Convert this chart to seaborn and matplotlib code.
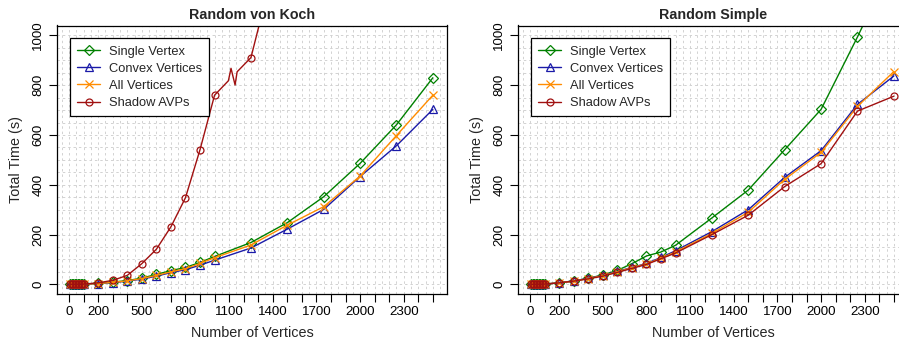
import numpy as np
import pandas as pd
import matplotlib
matplotlib.use("Agg")
import matplotlib.pyplot as plt
from matplotlib.lines import Line2D
from matplotlib.ticker import MultipleLocator, FixedLocator, FixedFormatter
import seaborn as sns

# ---------------- data ----------------
vertices = [10, 20, 30, 40, 50, 60, 70, 80, 90, 100,
            200, 300, 400, 500, 600, 700, 800, 900, 1000,
            1250, 1500, 1750, 2000, 2250, 2500]
small_vals = [0.0, 0.1, 0.1, 0.2, 0.3, 0.4, 0.5, 0.6, 0.8, 1.0]

koch_single = small_vals + [4, 9, 15, 25, 40, 55, 68, 88, 112, 168, 248, 352, 486, 641, 830]
koch_convex = small_vals + [3, 7, 13, 21, 33, 47, 59, 77, 97, 146, 222, 301, 433, 557, 703]
koch_all = small_vals + [3, 8, 14, 23, 36, 50, 63, 84, 107, 158, 238, 312, 435, 598, 760]
koch_shadow = small_vals + [6, 16, 36, 83, 141, 231, 348, 541, 760, 911, 1490, 2200, 3100, 4200, 5500]
# zig-zag "break" drawn on the Shadow AVPs line between 1000 and 1250
koch_break_x = [1095, 1113, 1141, 1155]
koch_break_y = [818, 868, 801, 854]

simple_single = small_vals + [6, 14, 24, 38, 56, 83, 114, 130, 157, 267, 379, 541, 703, 994, 1300]
simple_convex = small_vals + [6, 14, 24, 36, 52, 68, 84, 108, 135, 212, 300, 430, 537, 723, 837]
simple_all = small_vals + [6, 13, 23, 35, 50, 67, 82, 105, 130, 205, 290, 422, 530, 715, 855]
simple_shadow = small_vals + [6, 13, 22, 33, 48, 64, 80, 103, 126, 200, 278, 393, 485, 696, 756]

series_names = ["Single Vertex", "Convex Vertices", "All Vertices", "Shadow AVPs"]
titles = ["Random von Koch", "Random Simple"]
x_tick_values = list(range(0, 2501, 100))
x_tick_labels_shown = [0, 200, 500, 800, 1100, 1400, 1700, 2000, 2300]
y_tick_values = [0, 200, 400, 600, 800, 1000]

# ---------------- style ----------------
colors = ["#008000", "#1a1aa8", "#ff8c00", "#a01010"]
markers = ["D", "^", "x", "o"]
msizes = [5.2, 5.8, 5.8, 5.0]

sns.set_theme(style="white")
plt.rcParams["font.family"] = ["Liberation Sans", "DejaVu Sans"]

W, H = 899, 344
fig = plt.figure(figsize=(W / 100, H / 100), dpi=100)

ax_w = 390
ax_bottom = 49.7
ax_h = 268.8
lefts = [57.4, 518.4]
axes = [fig.add_axes([l / W, ax_bottom / H, ax_w / W, ax_h / H]) for l in lefts]

datasets = [
    [koch_single, koch_convex, koch_all, koch_shadow],
    [simple_single, simple_convex, simple_all, simple_shadow],
]

for k, ax in enumerate(axes):
    ax.set_xlim(-80, 2600)
    ax.set_ylim(-40, 1040)
    # grid
    ax.xaxis.set_major_locator(FixedLocator(x_tick_values))
    ax.xaxis.set_minor_locator(MultipleLocator(50))
    ax.yaxis.set_major_locator(FixedLocator(y_tick_values))
    ax.yaxis.set_minor_locator(MultipleLocator(50))
    ax.grid(True, which="both", color="#d2d2d2", linestyle=(0, (2.5, 3)), linewidth=0.7)
    ax.set_axisbelow(True)

    for i, name in enumerate(series_names):
        ys = list(datasets[k][i])
        xs = list(vertices)
        mevery = None
        if k == 0 and i == 3:
            pos = xs.index(1000) + 1
            xs = xs[:pos] + koch_break_x + xs[pos:]
            ys = ys[:pos] + koch_break_y + ys[pos:]
            mevery = [j for j in range(len(xs)) if j < pos or j >= pos + len(koch_break_x)]
        df = pd.DataFrame({"x": xs, "y": ys})
        kw = dict(color=colors[i], marker=markers[i], markersize=msizes[i],
                  markeredgecolor=colors[i], markeredgewidth=0.9, linewidth=1.0,
                  sort=False, estimator=None, legend=False)
        if markers[i] != "x":
            kw["markerfacecolor"] = "none"
        if mevery is not None:
            kw["markevery"] = mevery
        sns.lineplot(data=df, x="x", y="y", ax=ax, **kw)

    # ticks
    labels = [str(v) if v in x_tick_labels_shown else "" for v in x_tick_values]
    ax.xaxis.set_major_formatter(FixedFormatter(labels))
    ax.tick_params(axis="both", which="major", direction="out", length=5.5, width=0.8,
                   color="black", labelsize=9.6, labelcolor="black",
                   bottom=True, left=True)
    ax.tick_params(axis="x", pad=3)
    ax.tick_params(axis="y", pad=4)
    ax.tick_params(which="minor", length=0)
    for lab in ax.get_yticklabels():
        lab.set_rotation(90)
        lab.set_va("center")
    for sp in ax.spines.values():
        sp.set_visible(True)
        sp.set_color("black")
        sp.set_linewidth(0.9)

    ax.set_title(titles[k], fontsize=10.3, fontweight="bold", pad=5)
    ax.set_xlabel("Number of Vertices", fontsize=10.4)
    ax.set_ylabel("Total Time (s)", fontsize=10.4)
    ax.xaxis.set_label_coords(0.5, -0.118)
    ax.yaxis.set_label_coords(-0.087, 0.5)

    handles = [Line2D([0], [0], color=colors[i], marker=markers[i], markersize=msizes[i],
                      markerfacecolor=("none" if markers[i] != "x" else colors[i]),
                      markeredgecolor=colors[i], markeredgewidth=0.9, linewidth=1.0)
               for i in range(4)]
    leg = ax.legend(handles, series_names, loc="upper left",
                    bbox_to_anchor=(0.033, 0.952), borderaxespad=0,
                    fontsize=9.3, frameon=True, fancybox=False, edgecolor="black",
                    framealpha=1, numpoints=1, handlelength=1.75, handletextpad=0.7,
                    labelspacing=0.4, borderpad=0.55)
    leg.get_frame().set_linewidth(0.9)

fig.savefig("out.png", dpi=100)
